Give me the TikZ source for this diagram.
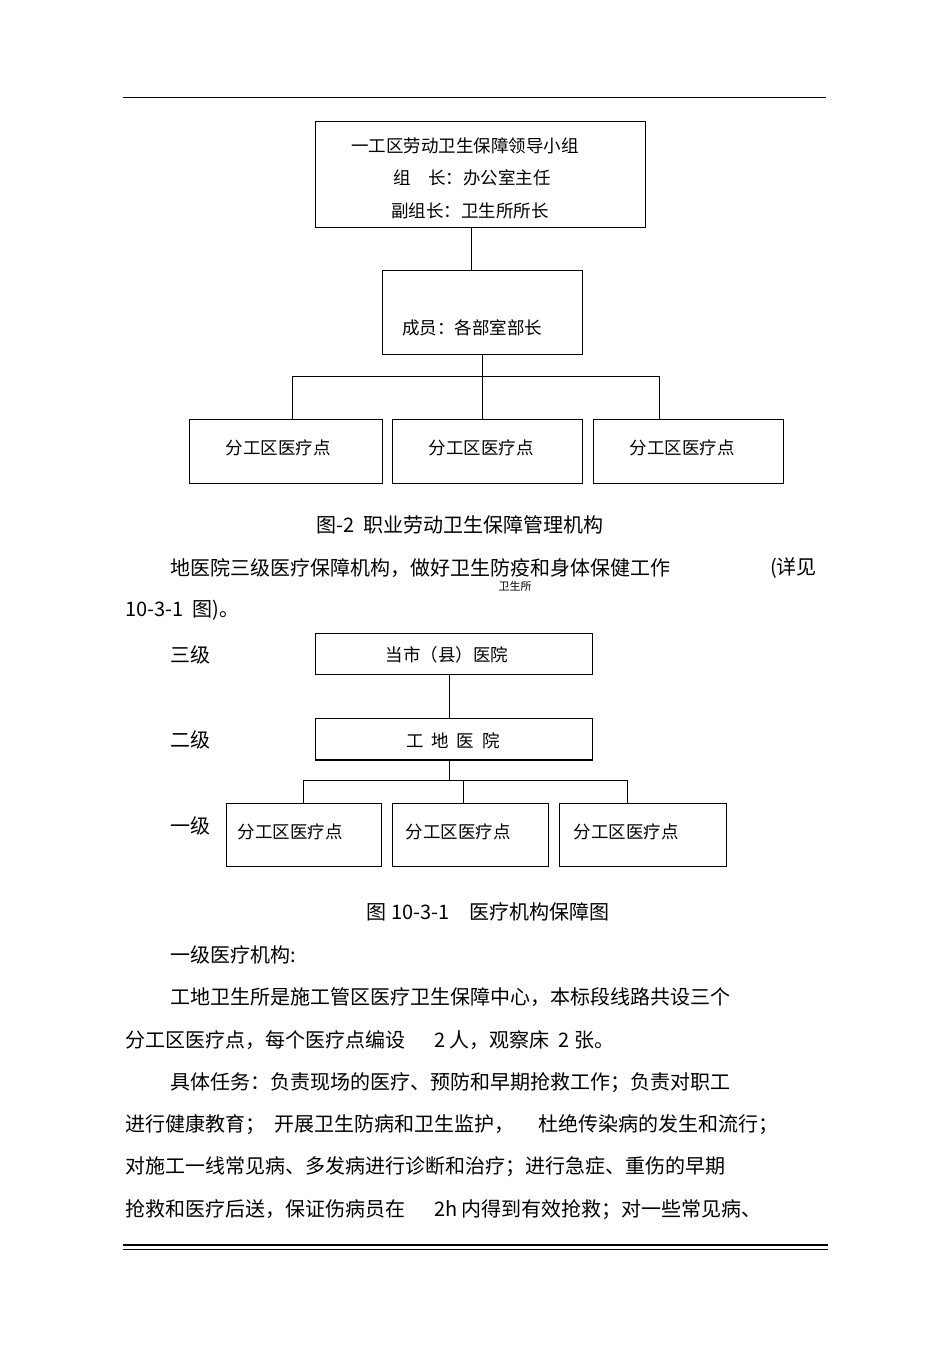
\documentclass[tikz,border=0pt]{standalone}
\usepackage{fontspec}
\setmainfont{Liberation Sans}
\newfontfamily\cjk{Noto Sans CJK SC}
\begin{document}
\begin{tikzpicture}[x=1pt,y=-1pt,
  bx/.style={draw,line width=0.8pt},
  ln/.style={line width=0.8pt},
  small/.style={font=\cjk\fontsize{17.5}{20}\selectfont,inner sep=0pt},
  body/.style={font=\cjk\fontsize{20}{24}\selectfont,inner sep=0pt,anchor=west},
  captext/.style={font=\cjk\fontsize{20}{24}\selectfont,inner sep=0pt}]
\fill[white] (0,0) rectangle (950,1345);
\useasboundingbox (0,0) rectangle (950,1345);
\draw[ln] (123,97) -- (826,97);
% first chart
\draw[bx] (315,121) rectangle (645,227);
\node[small] (t1) at (465,146) {一工区劳动卫生保障领导小组};
\node[small] (t2) at (472,178) {组\quad 长：办公室主任};
\node[small] (t3) at (470,211) {副组长：卫生所所长};
\coordinate (b1) at (471,227);
\draw[bx] (382,270) rectangle (582,354);
\coordinate (b2t) at (471,270);
\draw[ln] (b1) -- (b2t);
\node[small] (m) at (472,328) {成员：各部室部长};
\draw[ln] (482,354) -- (482,376);
\draw[ln] (292,419) -- (292,376) -- (659,376) -- (659,419);
\draw[ln] (482,376) -- (482,419);
\draw[bx] (189,419) rectangle (382,483);
\draw[bx] (392,419) rectangle (582,483);
\draw[bx] (593,419) rectangle (783,483);
\node[small] (f1) at (278,448) {分工区医疗点};
\node[small] (f2) at (481,448) {分工区医疗点};
\node[small] (f3) at (682,448) {分工区医疗点};
\node[captext] (c1) at (460,525) {图-2\ \ 职业劳动卫生保障管理机构};
% text
\node[body] (p1) at (170,568) {地医院三级医疗保障机构，做好卫生防疫和身体保健工作};
\node[body] (p1b) at (770,568) {(详见};
\node[font=\cjk\fontsize{11}{12}\selectfont,inner sep=0pt] (p1c) at (515,586) {卫生所};
\node[body] (p2) at (125,610) {10-3-1\ \ 图)。};
% second chart
\node[body] (l3) at (170,655) {三级};
\node[body] (l2) at (170,740) {二级};
\node[body] (l1) at (170,826) {一级};
\draw[bx] (315,633) rectangle (592,674);
\node[small] (h1) at (447,655) {当市（县）医院};
\draw[ln] (449,674) -- (449,718);
\draw[bx] (315,718) rectangle (592,760);
\draw[line width=1.6pt] (315,760) -- (592,760);
\node[small] (h2) at (453,741) {工\ \ 地\ \ 医\ \ 院};
\draw[ln] (449,760) -- (449,780);
\draw[ln] (303,803) -- (303,780) -- (627,780) -- (627,803);
\draw[ln] (463,780) -- (463,803);
\draw[bx] (226,803) rectangle (381,866);
\draw[bx] (392,803) rectangle (548,866);
\draw[bx] (559,803) rectangle (726,866);
\node[small] (g1) at (290,832) {分工区医疗点};
\node[small] (g2) at (458,832) {分工区医疗点};
\node[small] (g3) at (626,832) {分工区医疗点};
\node[captext] (c2) at (488,912) {图 10-3-1\quad 医疗机构保障图};
% paragraphs
\node[body] at (170,955) {一级医疗机构:};
\node[body] at (170,997) {工地卫生所是施工管区医疗卫生保障中心，本标段线路共设三个};
\node[body] at (125,1040) {分工区医疗点，每个医疗点编设\quad\ \ 2 人，观察床\ \ 2 张。};
\node[body] at (170,1083) {具体任务：负责现场的医疗、预防和早期抢救工作；负责对职工};
\node[body] at (125,1125) {进行健康教育；\ \ 开展卫生防病和卫生监护，\quad\ 杜绝传染病的发生和流行；};
\node[body] at (125,1167) {对施工一线常见病、多发病进行诊断和治疗；进行急症、重伤的早期};
\node[body] at (125,1210) {抢救和医疗后送，保证伤病员在\quad\ \ 2h 内得到有效抢救；对一些常见病、};
\draw[line width=1.2pt] (123,1245) -- (828,1245);
\draw[line width=0.6pt] (123,1249.5) -- (828,1249.5);
\end{tikzpicture}
\end{document}
